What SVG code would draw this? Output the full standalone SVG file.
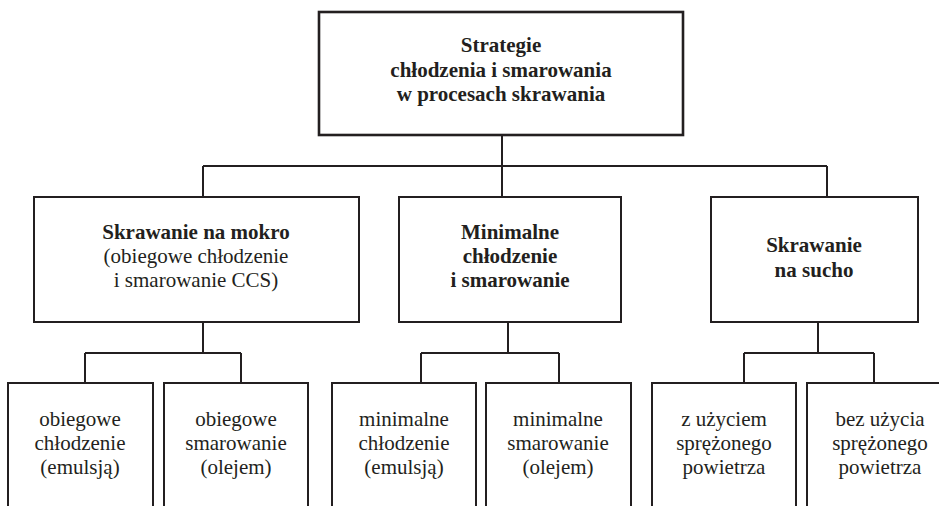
<svg xmlns="http://www.w3.org/2000/svg" width="939" height="506" viewBox="0 0 939 506">
<style>
.box{fill:#fff;stroke:#231f20;stroke-width:2}
.top{stroke-width:2.6}
.ln{fill:none;stroke:#231f20;stroke-width:2}
text{font-family:"Liberation Serif","Times New Roman",serif;font-size:21px;fill:#231f20;text-anchor:middle}
.b{font-weight:bold}
</style>
<rect width="939" height="506" fill="#fff"/>
<g id="connectors">
<path class="ln" d="M502 135V197M203 166H827M203 166V197M827 166V197"/>
<path class="ln" d="M203 322V353M85 353H241M85 353V383M241 353V383"/>
<path class="ln" d="M508 322V353M421 353H559M421 353V383M559 353V383"/>
<path class="ln" d="M818 322V353M744 353H874M744 353V383M874 353V383"/>
</g>
<g id="root">
<rect class="box top" x="319" y="12" width="364" height="123"/>
<text class="b" x="501" y="52">Strategie</text>
<text class="b" x="501" y="77">chłodzenia i smarowania</text>
<text class="b" x="501" y="101">w procesach skrawania</text>
</g>
<g id="wet">
<rect class="box" x="34" y="197" width="325" height="125"/>
<text class="b" x="196" y="239">Skrawanie na mokro</text>
<text x="196" y="263">(obiegowe chłodzenie</text>
<text x="196" y="287">i smarowanie CCS)</text>
</g>
<g id="mql">
<rect class="box" x="399" y="197" width="222" height="125"/>
<text class="b" x="510" y="239">Minimalne</text>
<text class="b" x="510" y="263">chłodzenie</text>
<text class="b" x="510" y="287">i smarowanie</text>
</g>
<g id="dry">
<rect class="box" x="711" y="197" width="207" height="125"/>
<text class="b" x="814" y="252">Skrawanie</text>
<text class="b" x="814" y="277">na sucho</text>
</g>
<g id="wet-cool">
<rect class="box" x="8" y="383" width="145" height="140"/>
<text x="80" y="426">obiegowe</text>
<text x="80" y="450">chłodzenie</text>
<text x="80" y="474">(emulsją)</text>
</g>
<g id="wet-lube">
<rect class="box" x="164" y="383" width="144" height="140"/>
<text x="236" y="426">obiegowe</text>
<text x="236" y="450">smarowanie</text>
<text x="236" y="474">(olejem)</text>
</g>
<g id="mql-cool">
<rect class="box" x="332" y="383" width="144" height="140"/>
<text x="404" y="426">minimalne</text>
<text x="404" y="450">chłodzenie</text>
<text x="404" y="474">(emulsją)</text>
</g>
<g id="mql-lube">
<rect class="box" x="486" y="383" width="145" height="140"/>
<text x="558" y="426">minimalne</text>
<text x="558" y="450">smarowanie</text>
<text x="558" y="474">(olejem)</text>
</g>
<g id="dry-air">
<rect class="box" x="652" y="383" width="144" height="140"/>
<text x="724" y="426">z użyciem</text>
<text x="724" y="450">sprężonego</text>
<text x="724" y="474">powietrza</text>
</g>
<g id="dry-noair">
<rect class="box" x="807" y="383" width="147" height="140"/>
<text x="880" y="426">bez użycia</text>
<text x="880" y="450">sprężonego</text>
<text x="880" y="474">powietrza</text>
</g>
</svg>
